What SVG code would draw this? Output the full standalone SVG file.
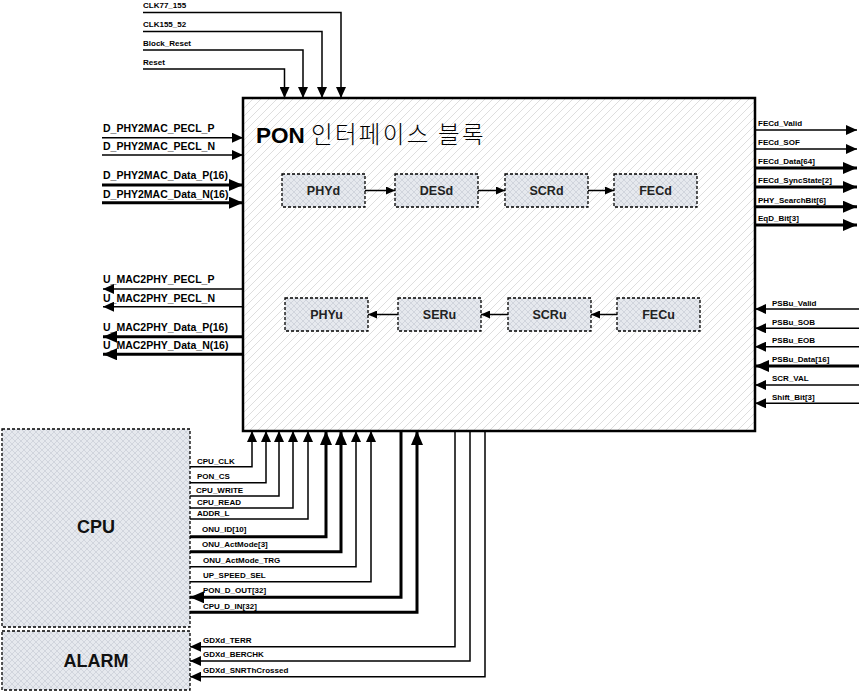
<svg xmlns="http://www.w3.org/2000/svg" width="859" height="693" viewBox="0 0 859 693">
<defs>
<pattern id="hatch" patternUnits="userSpaceOnUse" width="8" height="8">
<path d="M-2,2 L2,-2 M0,8 L8,0 M6,10 L10,6" stroke="#d6d6d6" stroke-width="0.8"/>
</pattern>
<pattern id="cross" patternUnits="userSpaceOnUse" width="6" height="6">
<rect width="6" height="6" fill="#e6e9ee"/>
<path d="M0,0 L6,6 M6,0 L0,6" stroke="#c3c8d1" stroke-width="0.6"/>
</pattern>
<marker id="a" markerUnits="userSpaceOnUse" markerWidth="11" markerHeight="10" refX="11" refY="5" orient="auto">
<path d="M0,0 L11,5 L0,10 z" fill="#000"/>
</marker>
<marker id="A" markerUnits="userSpaceOnUse" markerWidth="14" markerHeight="12" refX="14" refY="6" orient="auto">
<path d="M0,0 L14,6 L0,12 z" fill="#000"/>
</marker>
<marker id="s" markerUnits="userSpaceOnUse" markerWidth="9" markerHeight="8" refX="9" refY="4" orient="auto">
<path d="M0,0 L9,4 L0,8 z" fill="#000"/>
</marker>
</defs>
<style>
.lbl{font-family:"Liberation Sans",Arial,sans-serif;font-weight:bold;font-size:8px;fill:#000}
.big{font-family:"Liberation Sans",Arial,sans-serif;font-weight:bold;font-size:10.5px;fill:#000}
.blk{font-family:"Liberation Sans",Arial,sans-serif;font-weight:bold;font-size:12.5px;fill:#222}
.ext{font-family:"Liberation Sans",Arial,sans-serif;font-weight:bold;font-size:18px;fill:#111}
.w{fill:none;stroke:#000;stroke-width:1.5;marker-end:url(#a)}
.W{fill:none;stroke:#000;stroke-width:3;marker-end:url(#A)}
.i{fill:none;stroke:#000;stroke-width:1.5;marker-end:url(#s)}
.box{fill:url(#cross);stroke:#000;stroke-width:1.3;stroke-dasharray:3,2}
</style>
<rect width="859" height="693" fill="#fff"/>

<g id="main">
<rect x="243" y="98" width="512" height="333" fill="#fff"/>
<rect x="243" y="98" width="512" height="333" fill="url(#hatch)" stroke="#000" stroke-width="2.5"/>
<text x="256" y="142.5" font-family="'Liberation Sans',sans-serif" font-size="22.5" font-weight="bold" fill="#000">PON</text>
<text x="311" y="142.5" font-family="'Noto Sans CJK KR',sans-serif" font-size="23.5" font-weight="300" letter-spacing="2.3" fill="#000">인터페이스 블록</text>
</g>

<g id="PHYd"><rect class="box" x="282" y="174" width="83" height="33"/><text class="blk" x="323.5" y="195" text-anchor="middle">PHYd</text></g>
<g id="DESd"><rect class="box" x="395" y="174" width="83" height="33"/><text class="blk" x="436.5" y="195" text-anchor="middle">DESd</text></g>
<g id="SCRd"><rect class="box" x="505" y="174" width="83" height="33"/><text class="blk" x="546.5" y="195" text-anchor="middle">SCRd</text></g>
<g id="FECd"><rect class="box" x="614" y="174" width="83" height="33"/><text class="blk" x="655.5" y="195" text-anchor="middle">FECd</text></g>
<g id="PHYu"><rect class="box" x="285" y="298" width="83" height="33"/><text class="blk" x="326.5" y="319" text-anchor="middle">PHYu</text></g>
<g id="SERu"><rect class="box" x="398" y="298" width="83" height="33"/><text class="blk" x="439.5" y="319" text-anchor="middle">SERu</text></g>
<g id="SCRu"><rect class="box" x="508" y="298" width="83" height="33"/><text class="blk" x="549.5" y="319" text-anchor="middle">SCRu</text></g>
<g id="FECu"><rect class="box" x="617" y="298" width="83" height="33"/><text class="blk" x="658.5" y="319" text-anchor="middle">FECu</text></g>

<g id="CPU"><rect class="box" x="2" y="429" width="188" height="198"/><text class="ext" x="96" y="533" text-anchor="middle">CPU</text></g>
<g id="ALARM"><rect class="box" x="2" y="631" width="188" height="59"/><text class="ext" x="96" y="667" text-anchor="middle">ALARM</text></g>

<g id="connectors">
<path class="i" d="M365,190.5 H395"/>
<path class="i" d="M478,190.5 H505"/>
<path class="i" d="M588,190.5 H614"/>
<path class="i" d="M617,314.5 H591"/>
<path class="i" d="M508,314.5 H481"/>
<path class="i" d="M398,314.5 H368"/>

<path class="w" d="M143,12.5 H341 V98"/>
<path class="w" d="M143,31.5 H322 V98"/>
<path class="w" d="M143,50 H303 V98"/>
<path class="w" d="M143,69 H284.5 V98"/>
<text class="lbl" x="143" y="8">CLK77_155</text>
<text class="lbl" x="143" y="27">CLK155_52</text>
<text class="lbl" x="143" y="46">Block_Reset</text>
<text class="lbl" x="143" y="65">Reset</text>

<path class="w" d="M102,137.7 H243"/>
<path class="w" d="M102,155 H243"/>
<path class="W" d="M102,185 H243"/>
<path class="W" d="M102,202.7 H243"/>
<text class="big" x="103" y="131.5">D_PHY2MAC_PECL_P</text>
<text class="big" x="103" y="150">D_PHY2MAC_PECL_N</text>
<text class="big" x="103" y="179.3">D_PHY2MAC_Data_P(16)</text>
<text class="big" x="103" y="197.7">D_PHY2MAC_Data_N(16)</text>

<path class="w" d="M243,289 H103"/>
<path class="w" d="M243,306.7 H103"/>
<path class="W" d="M243,336.7 H103"/>
<path class="W" d="M243,354.3 H103"/>
<text class="big" x="103" y="282.5">U_MAC2PHY_PECL_P</text>
<text class="big" x="103" y="302">U_MAC2PHY_PECL_N</text>
<text class="big" x="103" y="331">U_MAC2PHY_Data_P(16)</text>
<text class="big" x="103" y="349">U_MAC2PHY_Data_N(16)</text>

<path class="w" d="M755,130 H857"/>
<path class="w" d="M755,149 H857"/>
<path class="W" d="M755,168 H857"/>
<path class="W" d="M755,187 H857"/>
<path class="W" d="M755,206.7 H857"/>
<path class="W" d="M755,225 H857"/>
<text class="lbl" x="758" y="126">FECd_Valid</text>
<text class="lbl" x="758" y="145">FECd_SOF</text>
<text class="lbl" x="758" y="164">FECd_Data[64]</text>
<text class="lbl" x="758" y="183">FECd_SyncState[2]</text>
<text class="lbl" x="758" y="202.5">PHY_SearchBit[6]</text>
<text class="lbl" x="758" y="221">EqD_Bit[3]</text>

<path class="w" d="M859,309 H755"/>
<path class="w" d="M859,328.3 H755"/>
<path class="w" d="M859,346.7 H755"/>
<path class="W" d="M859,366 H755"/>
<path class="w" d="M859,385 H755"/>
<path class="w" d="M859,403.3 H755"/>
<text class="lbl" x="772" y="305.5">PSBu_Valid</text>
<text class="lbl" x="772" y="324.5">PSBu_SOB</text>
<text class="lbl" x="772" y="343">PSBu_EOB</text>
<text class="lbl" x="772" y="362">PSBu_Data[16]</text>
<text class="lbl" x="772" y="381">SCR_VAL</text>
<text class="lbl" x="772" y="399.5">Shift_Bit[3]</text>

<path class="w" d="M190,466.7 H252 V431"/>
<path class="w" d="M190,482.7 H266 V431"/>
<path class="w" d="M190,496 H279 V431"/>
<path class="w" d="M190,508 H293 V431"/>
<path class="w" d="M190,519 H308 V431"/>
<path class="W" d="M190,536.7 H326 V431"/>
<path class="W" d="M190,551.7 H341 V431"/>
<path class="w" d="M190,566.7 H356 V431"/>
<path class="w" d="M190,581.7 H371 V431"/>
<path class="W" d="M401,431 V597.3 H190"/>
<path class="W" d="M190,612.3 H417 V431"/>
<text class="lbl" x="197" y="463.5">CPU_CLK</text>
<text class="lbl" x="197" y="479">PON_CS</text>
<text class="lbl" x="196" y="492.5">CPU_WRITE</text>
<text class="lbl" x="197" y="505">CPU_READ</text>
<text class="lbl" x="197" y="516">ADDR_L</text>
<text class="lbl" x="202" y="532">ONU_ID[10]</text>
<text class="lbl" x="202" y="547">ONU_ActMode[3]</text>
<text class="lbl" x="203" y="562.5">ONU_ActMode_TRG</text>
<text class="lbl" x="203" y="577.5">UP_SPEED_SEL</text>
<text class="lbl" x="203" y="593">PON_D_OUT[32]</text>
<text class="lbl" x="203" y="608.5">CPU_D_IN[32]</text>

<path class="w" d="M455,431 V646.7 H190"/>
<path class="w" d="M470,431 V661 H190"/>
<path class="w" d="M485,431 V676.7 H190"/>
<text class="lbl" x="203" y="642.5">GDXd_TERR</text>
<text class="lbl" x="203" y="657">GDXd_BERCHK</text>
<text class="lbl" x="203" y="672.5">GDXd_SNRThCrossed</text>
</g>
</svg>
